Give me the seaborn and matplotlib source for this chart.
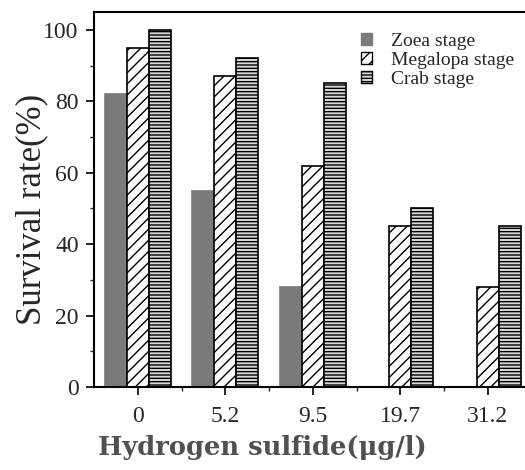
import matplotlib
matplotlib.use("Agg")
import matplotlib.pyplot as plt
import seaborn as sns
import pandas as pd
from matplotlib.ticker import MultipleLocator, FixedLocator
from matplotlib.patches import Patch

# ---- data ----
concentrations = ["0", "5.2", "9.5", "19.7", "31.2"]
stages = ["Zoea stage", "Megalopa stage", "Crab stage"]
zoea = [82, 55, 28, 0, 0]
megalopa = [95, 87, 62, 45, 28]
crab = [100, 92, 85, 50, 45]

df = pd.DataFrame({
    "conc": concentrations * 3,
    "stage": [stages[0]] * 5 + [stages[1]] * 5 + [stages[2]] * 5,
    "rate": zoea + megalopa + crab,
})

sns.set_style("ticks")
plt.rcParams["font.family"] = ["Liberation Serif", "DejaVu Serif"]
plt.rcParams["hatch.linewidth"] = 1.0

fig = plt.figure(figsize=(5.25, 4.7), dpi=100)
ax = fig.add_axes([94 / 525, 83 / 470, 437.5 / 525, (387 - 12) / 470])

sns.barplot(data=df, x="conc", y="rate", hue="stage", order=concentrations,
            hue_order=stages, width=0.75, gap=0, ax=ax, legend=False,
            palette=["#7a7a7a", "white", "#d8d8d8"], saturation=1)

styles = [
    dict(hatch="", edgecolor="#7a7a7a", facecolor="#7a7a7a"),
    dict(hatch="///", edgecolor="black", facecolor="white"),
    dict(hatch="-----", edgecolor="black", facecolor="#d8d8d8"),
]
for cont, st in zip(ax.containers, styles):
    for bar in cont:
        bar.set_hatch(st["hatch"])
        bar.set_edgecolor(st["edgecolor"])
        bar.set_facecolor(st["facecolor"])
        bar.set_linewidth(1.2)

ax.set_ylim(0, 105)
ax.set_xlim(-0.5, 4.5)
ax.yaxis.set_major_locator(MultipleLocator(20))
ax.yaxis.set_minor_locator(MultipleLocator(10))
ax.xaxis.set_minor_locator(FixedLocator([0.5, 1.5, 2.5, 3.5]))
ax.tick_params(axis="both", which="major", direction="out", length=6, width=1.2,
               labelsize=17, color="black")
ax.tick_params(axis="both", which="minor", direction="out", length=3, width=1.0)
ax.tick_params(axis="x", which="major", pad=8)
ax.tick_params(axis="y", which="major", pad=5)

for s in ["left", "bottom", "top"]:
    ax.spines[s].set_visible(True)
    ax.spines[s].set_linewidth(1.5)
    ax.spines[s].set_color("black")
ax.spines["right"].set_visible(False)

ax.set_ylabel("Survival rate(%)", fontsize=25)
ax.yaxis.set_label_coords((32 - 94) / 437.5, (387 - 209) / 375, transform=ax.transAxes)
ax.yaxis.label.set_horizontalalignment("center")
ax.yaxis.label.set_verticalalignment("center")
ax.set_xlabel("Hydrogen sulfide(μg/l)", fontsize=18.5, fontweight="bold",
              family=["DejaVu Serif"], color="#505050")
ax.xaxis.set_label_coords((262 - 94) / 437.5, -(447 - 387) / 375, transform=ax.transAxes)
ax.xaxis.label.set_verticalalignment("center")

handles = [Patch(facecolor=st["facecolor"], edgecolor=st["edgecolor"],
                 hatch=st["hatch"], linewidth=1.0) for st in styles]
fig.legend(handles, stages, loc="upper left", bbox_to_anchor=(361 / 525, 1 - 33 / 470),
           frameon=False, fontsize=14, handlelength=0.55, handleheight=0.55,
           handletextpad=1.0, labelspacing=0.1, borderpad=0, borderaxespad=0)

fig.savefig("out.png", dpi=100)
